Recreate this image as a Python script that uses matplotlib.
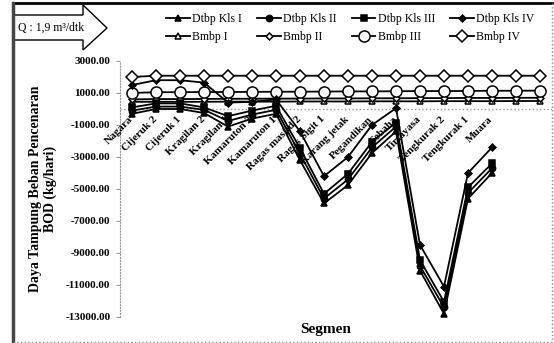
import matplotlib.pyplot as plt
from matplotlib.patches import Polygon
from matplotlib.lines import Line2D

plt.rcParams['font.family'] = ['Liberation Serif', 'DejaVu Serif']

# river segments, upstream to downstream (last two stations unnamed)
segments = ["Nagara", "Cijeruk 2", "Cijeruk 1", "Kragilan 2", "Kragilan 1",
            "Kamaruton 2", "Kamaruton 1", "Ragas masjid 2", "Ragas Sigit 1",
            "Karang jetak", "Pegandikan", "Sebaha", "Tirtayasa",
            "Tengkurak 2", "Tengkurak 1", "Muara", "", ""]

# daya tampung BOD per kelas air (kg/hari)
dtbp_kls_1 = [-300, 0, 0, -250, -1100, -600, -300, -3200, -5900, -4750,
              -2750, -1400, -10100, -12800, -5600, -4000]
dtbp_kls_2 = [-100, 150, 150, -50, -750, -350, -50, -2800, -5600, -4400,
              -2400, -1100, -9800, -12400, -5250, -3700]
dtbp_kls_3 = [100, 350, 350, 100, -450, -100, 200, -2450, -5300, -4050,
              -2050, -850, -9450, -12050, -4900, -3400]
dtbp_kls_4 = [1500, 1800, 1800, 1650, 400, 450, 600, -1400, -4200, -3000,
              -1000, 50, -8500, -11100, -4000, -2400]

# beban maksimum yang diperbolehkan
bmbp_1 = [450, 450, 450, 450, 460, 460, 460, 470, 470, 470,
          480, 480, 480, 490, 490, 490, 500, 500]
bmbp_2 = [600, 620, 620, 630, 640, 640, 650, 650, 660, 660,
          670, 670, 680, 680, 690, 690, 700, 700]
bmbp_3 = [1000, 1050, 1050, 1060, 1060, 1070, 1080, 1080, 1090, 1100,
          1100, 1110, 1120, 1120, 1130, 1140, 1140, 1150]
bmbp_4 = [2000, 2080, 2080, 2080, 2080, 2080, 2080, 2080, 2080, 2080,
          2080, 2080, 2080, 2080, 2080, 2080, 2080, 2080]

yticks = list(range(-13000, 3001, 2000))

fig = plt.figure(figsize=(5.54, 3.43), dpi=100)
ax = fig.add_axes([120 / 554, 26 / 343, 432 / 554, 256 / 343])

x_dtbp = list(range(len(dtbp_kls_1)))
x_bmbp = list(range(len(bmbp_1)))

series = [
    ("Dtbp Kls I", x_dtbp, dtbp_kls_1, '^', 'black', 5),
    ("Bmbp I", x_bmbp, bmbp_1, '^', 'white', 4),
    ("Dtbp Kls II", x_dtbp, dtbp_kls_2, 'o', 'black', 4.5),
    ("Bmbp II", x_bmbp, bmbp_2, 'D', 'white', 3.5),
    ("Dtbp Kls III", x_dtbp, dtbp_kls_3, 's', 'black', 4.5),
    ("Bmbp III", x_bmbp, bmbp_3, 'o', 'white', 8),
    ("Dtbp Kls IV", x_dtbp, dtbp_kls_4, 'D', 'black', 3.5),
    ("Bmbp IV", x_bmbp, bmbp_4, 'D', 'white', 6.5),
]

handles = []
for name, xs, ys, mk, face, ms in series:
    line, = ax.plot(xs, ys, color='black', lw=1.3, marker=mk, ms=ms,
                    mfc=face, mec='black', mew=1.1, label=name)
    handles.append(line)

ax.set_xlim(-0.5, len(segments) - 0.5)
ax.set_ylim(-13000, 3000)
ax.set_yticks(yticks)
ax.set_yticklabels(["%.2f" % v for v in yticks], fontsize=8, fontweight='bold')
ax.tick_params(axis='y', length=3, color='#999999', pad=4)
ax.set_xticks([])

# axes: dotted left spine and zero line, no frame otherwise
for side in ['top', 'right', 'bottom']:
    ax.spines[side].set_visible(False)
ax.spines['left'].set_color('#999999')
ax.spines['left'].set_linestyle(':')
ax.axhline(0, color='#999999', lw=1, ls=':', zorder=0)

# segment names hang under the zero line
for i, name in enumerate(segments):
    ax.annotate(name, xy=(i, 0), xytext=(2, -4), textcoords='offset points',
                rotation=45, ha='right', va='top', fontsize=8,
                fontweight='bold')

ax.set_ylabel("Daya Tampung Beban Pencenaran\nBOD (kg/hari)", fontsize=10,
              fontweight='bold', linespacing=1.1, labelpad=6)
fig.text(326 / 554, 1 - 330 / 343, "Segmen", fontsize=11, fontweight='bold',
         ha='center', va='center')

fig.legend(handles=handles, ncol=4, loc='upper left',
           bbox_to_anchor=(160 / 554, 1 - 7 / 343), frameon=False,
           fontsize=8.5, handlelength=2.0, handletextpad=0.2,
           columnspacing=1.3, labelspacing=0.55, borderpad=0)

# debit arrow in the top left corner
pts = [(13, 15), (83, 15), (83, 5), (107, 28), (83, 50), (83, 40), (13, 40)]
arrow = Polygon([(px / 554, 1 - py / 343) for px, py in pts], closed=True,
                transform=fig.transFigure, facecolor='white',
                edgecolor='black', lw=1)
fig.patches.append(arrow)
fig.text(18 / 554, 1 - 28 / 343, "Q : 1,9 m³/dtk", fontsize=8.5,
         ha='left', va='center')

# outer chart border
fig.add_artist(Line2D([13 / 554, 552 / 554], [1 - 3 / 343, 1 - 3 / 343],
                      transform=fig.transFigure, color='black', lw=2))
fig.add_artist(Line2D([13 / 554, 13 / 554], [1 - 3 / 343, 1 / 343],
                      transform=fig.transFigure, color='#444444', lw=2.5))
fig.add_artist(Line2D([552 / 554, 552 / 554], [1 - 3 / 343, 1 / 343],
                      transform=fig.transFigure, color='#888888', lw=1, ls=':'))
fig.add_artist(Line2D([13 / 554, 552 / 554], [1 / 343, 1 / 343],
                      transform=fig.transFigure, color='#888888', lw=1, ls=':'))

fig.savefig("out.png", dpi=100)
